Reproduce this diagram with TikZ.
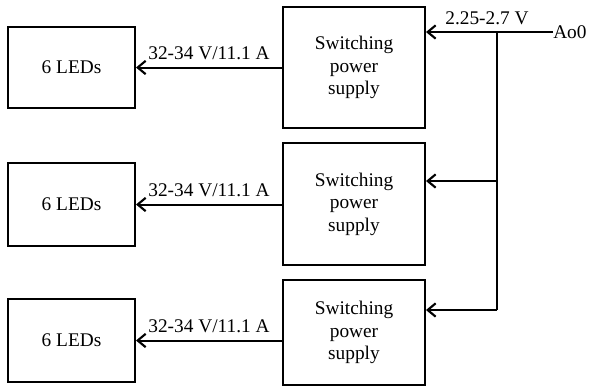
\documentclass[tikz,border=0pt]{standalone}
\usepackage{fontspec}
\setmainfont{Liberation Serif}
\usetikzlibrary{arrows.meta,calc}
\begin{document}
\begin{tikzpicture}[x=0.75pt,y=-0.75pt,
  blk/.style={draw,line width=1.5pt,inner sep=0pt,align=center,font=\fontsize{14.5}{16.8}\selectfont},
  conn/.style={line width=1.5pt},
  arr/.style={conn,-{Straight Barb[length=6pt,width=10pt,line width=1.6pt]}},
  lbl/.style={font=\fontsize{14.5}{16.8}\selectfont,inner sep=0pt}]
\useasboundingbox (0,0) rectangle (589,387);
\node[blk,minimum width=127*0.75pt,minimum height=81*0.75pt] (led1) at (71.5,67.5) {6 LEDs};
\node[blk,minimum width=127*0.75pt,minimum height=83*0.75pt] (led2) at (71.5,204.5) {6 LEDs};
\node[blk,minimum width=127*0.75pt,minimum height=83*0.75pt] (led3) at (71.5,340.5) {6 LEDs};
\node[blk,minimum width=142*0.75pt,minimum height=121*0.75pt] (ps1) at (354,67.5) {Switching\\power\\supply};
\node[blk,minimum width=142*0.75pt,minimum height=122*0.75pt] (ps2) at (354,204) {Switching\\power\\supply};
\node[blk,minimum width=142*0.75pt,minimum height=105*0.75pt] (ps3) at (354,332.5) {Switching\\power\\supply};
\draw[arr] (ps1.west) -- (led1.east) node[lbl,midway,above=5pt] {32-34 V/11.1 A};
\draw[arr] (ps2.west |- led2.east) -- (led2.east) node[lbl,midway,above=5pt] {32-34 V/11.1 A};
\draw[arr] (ps3.west |- led3.east) -- (led3.east) node[lbl,midway,above=5pt] {32-34 V/11.1 A};
\node[lbl,anchor=west] (ao) at (553,32) {Ao0};
\coordinate (j1) at (497,32);
\coordinate (j2) at (497,181);
\coordinate (j3) at (497,310);
\draw[arr] (ao.west) -- (ps1.east |- ao.west);
\node[lbl] (vin) at (487,18) {2.25-2.7 V};
\draw[conn] (j1) -- (j3);
\draw[arr] (j2) -- (ps2.east |- j2);
\draw[arr] (j3) -- (ps3.east |- j3);
\end{tikzpicture}
\end{document}
